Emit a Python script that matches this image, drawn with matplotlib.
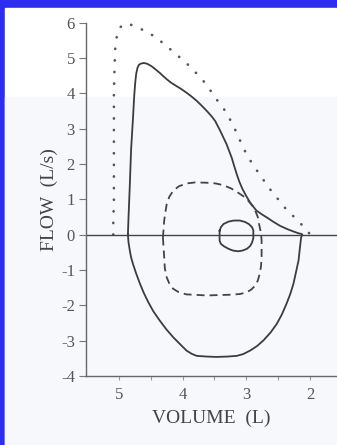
import matplotlib
matplotlib.use('Agg')
import matplotlib.pyplot as plt
from matplotlib.patches import Rectangle

plt.rcParams['axes.unicode_minus'] = False

# flow-volume loops (volume in L, flow in L/s)
# maximal loop: expiration (top) then inspiration (bottom)
max_vol = [4.86, 4.85, 4.83, 4.81, 4.78, 4.76, 4.745, 4.73, 4.71, 4.69, 4.66, 4.61, 4.56, 4.49,
           4.42, 4.36, 4.30, 4.25, 4.18, 4.10, 4.02, 3.94, 3.86, 3.78, 3.70, 3.62, 3.55, 3.49,
           3.45, 3.41, 3.36, 3.31, 3.27, 3.23, 3.19, 3.15, 3.11, 3.06, 3.00, 2.94, 2.89, 2.84,
           2.76, 2.68, 2.58, 2.47, 2.36, 2.26, 2.18, 2.13, 2.12,
           2.14, 2.16, 2.18, 2.22, 2.26, 2.31, 2.37, 2.44, 2.52, 2.62, 2.73, 2.83, 2.94, 3.05,
           3.15, 3.30, 3.47, 3.62, 3.78, 3.86, 3.94, 4.04, 4.15, 4.26, 4.36, 4.46, 4.54, 4.61,
           4.67, 4.73, 4.78, 4.81, 4.83, 4.85, 4.86]
max_flow = [0.0, 0.5, 1.4, 2.4, 3.3, 3.95, 4.3, 4.55, 4.72, 4.80, 4.84, 4.86, 4.84, 4.77,
            4.67, 4.58, 4.48, 4.40, 4.30, 4.21, 4.12, 4.02, 3.91, 3.79, 3.65, 3.50, 3.36, 3.22,
            3.08, 2.94, 2.75, 2.56, 2.37, 2.18, 1.94, 1.71, 1.50, 1.29, 1.09, 0.91, 0.79, 0.68,
            0.58, 0.49, 0.37, 0.25, 0.16, 0.09, 0.04, 0.02, 0.0,
            -0.08, -0.40, -0.73, -1.06, -1.39, -1.68, -1.96, -2.25, -2.52, -2.77, -2.99, -3.15,
            -3.28, -3.38, -3.43, -3.45, -3.46, -3.45, -3.43, -3.37, -3.28, -3.10, -2.90, -2.67,
            -2.43, -2.17, -1.91, -1.65, -1.39, -1.10, -0.83, -0.64, -0.45, -0.22, 0.0]

# predicted maximal loop (dotted, expiration only)
pred_vol = [5.09, 5.09, 5.08, 5.08, 5.08, 5.08, 5.07, 5.06, 5.04, 5.00, 4.93, 4.85, 4.70, 4.54,
            4.40, 4.27, 4.14, 4.01, 3.89, 3.77, 3.65, 3.56, 3.46, 3.36, 3.27, 3.19, 3.12, 3.05,
            2.97, 2.88, 2.79, 2.69, 2.59, 2.48, 2.38, 2.26, 2.14, 2.03, 2.00]
pred_flow = [0.0, 0.3, 1.0, 2.0, 3.0, 4.0, 4.7, 5.25, 5.56, 5.84, 5.95, 5.97, 5.86, 5.72,
             5.56, 5.36, 5.17, 4.96, 4.77, 4.54, 4.30, 4.07, 3.81, 3.58, 3.31, 3.03, 2.75, 2.47,
             2.18, 1.95, 1.69, 1.45, 1.19, 0.96, 0.73, 0.52, 0.30, 0.09, 0.0]

# exercise tidal loop (dashed)
ex_vol = [4.31, 4.30, 4.29, 4.27, 4.25, 4.21, 4.15, 4.06, 3.94, 3.80, 3.62, 3.48, 3.36, 3.24,
          3.13, 3.04, 2.97, 2.91, 2.86, 2.82, 2.80, 2.77, 2.76, 2.76, 2.77, 2.79, 2.82, 2.86,
          2.92, 2.99, 3.10, 3.26, 3.62, 3.94, 4.06, 4.15, 4.21, 4.25, 4.28, 4.29, 4.31]
ex_flow = [-0.08, 0.15, 0.40, 0.65, 0.87, 1.07, 1.24, 1.37, 1.45, 1.48, 1.47, 1.45, 1.40, 1.31,
           1.19, 1.08, 0.96, 0.83, 0.68, 0.50, 0.30, 0.05, -0.17, -0.64, -0.90, -1.11, -1.30,
           -1.44, -1.55, -1.63, -1.68, -1.70, -1.72, -1.69, -1.63, -1.53, -1.38, -1.21, -0.95,
           -0.64, -0.08]

# resting tidal loop (small solid)
rest_vol = [3.42, 3.40, 3.36, 3.28, 3.20, 3.10, 3.02, 2.96, 2.91, 2.89, 2.89, 2.89, 2.91, 2.94,
            2.99, 3.06, 3.13, 3.21, 3.28, 3.35, 3.40, 3.42, 3.42, 3.42]
rest_flow = [0.11, 0.21, 0.30, 0.37, 0.40, 0.40, 0.36, 0.30, 0.21, 0.12, 0.02, -0.10, -0.22,
             -0.32, -0.40, -0.45, -0.47, -0.45, -0.40, -0.33, -0.26, -0.17, -0.08, 0.11]

x_ticks = [5, 4, 3, 2]
x_minor = [4.5, 3.5, 2.5]
y_ticks = [-4, -3, -2, -1, 0, 1, 2, 3, 4, 5, 6]

W, H = 337, 445
fig = plt.figure(figsize=(W / 100, H / 100), dpi=100)
fig.patch.set_facecolor('#2d2df2')

# white slide panel and the faint scanned band
fig.patches.append(Rectangle((5 / W, 0), 1, 1 - 8 / H, transform=fig.transFigure,
                             color='white', zorder=-10))
fig.patches.append(Rectangle((5 / W, 0), 1, 1 - 97 / H, transform=fig.transFigure,
                             color='#f7f8fb', zorder=-9))

ax = fig.add_axes([86 / W, 1 - 376 / H, 1 - 86 / W, (376 - 22.7) / H])
ax.patch.set_alpha(0)

line_col = '#3c3c3c'
ax.plot(max_vol, max_flow, color=line_col, lw=1.3, solid_joinstyle='round')
ax.plot(pred_vol, pred_flow, color='#555555', lw=1.9, linestyle=(0, (0.1, 4.3)),
        dash_capstyle='round')
ax.plot(ex_vol, ex_flow, color='#444444', lw=1.3, linestyle=(0, (4.4, 2.8)))
ax.plot(rest_vol, rest_flow, color=line_col, lw=1.3, solid_joinstyle='round')
ax.axhline(0, color='#444444', lw=1.0)

ax.set_xlim(5.518, 1.576)
ax.set_ylim(-4, 6)

ax.spines['top'].set_visible(False)
ax.spines['right'].set_visible(False)
for s in ['left', 'bottom']:
    ax.spines[s].set_color('#666666')
    ax.spines[s].set_linewidth(1.0)

ax.set_xticks(x_ticks)
ax.set_xticks(x_minor, minor=True)
ax.set_yticks(y_ticks)
ax.tick_params(axis='y', length=5, width=0.8, color='#777777', pad=3)
ax.tick_params(axis='x', which='both', length=3, width=0.8, color='#999999', pad=5)

serif = 'Liberation Serif'
for lab in ax.get_xticklabels() + ax.get_yticklabels():
    lab.set_fontfamily(serif)
    lab.set_fontsize(12)
    lab.set_color('#555555')

ax.set_xlabel('VOLUME  (L)', fontfamily=serif, fontsize=14, color='#444444', labelpad=5)
ax.set_ylabel('FLOW  (L/s)', fontfamily=serif, fontsize=14, color='#444444', labelpad=2)

plt.savefig('out.png', dpi=100, facecolor=fig.get_facecolor())
